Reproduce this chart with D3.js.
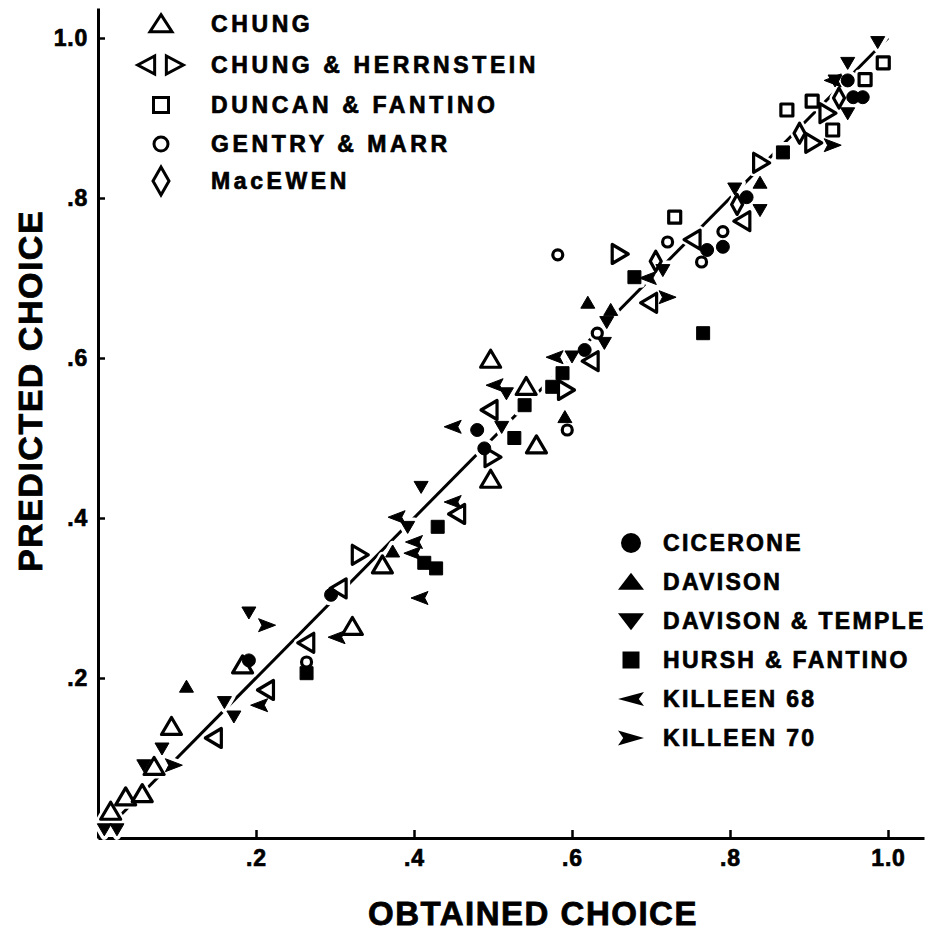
<!DOCTYPE html>
<html>
<head>
<meta charset="utf-8">
<script src="https://cdn.jsdelivr.net/npm/d3@7"></script>
<style>
  body { margin: 0; background: #fff; }
  svg { display: block; }
  text { font-family: "Liberation Sans", Arial, sans-serif; font-weight: bold; fill: #000; }
</style>
</head>
<body>
<svg id="chart" width="931" height="931"></svg>
<script>
// Data: [obtained, predicted]
const chung = [[0.016,0.033],[0.035,0.051],[0.056,0.055],[0.071,0.089],[0.093,0.139],[0.183,0.216],
  [0.322,0.264],[0.36,0.341],[0.497,0.598],[0.542,0.564],[0.555,0.491],[0.497,0.448]];
const chungHerrnsteinLeft = [[0.147,0.125],[0.213,0.185],[0.264,0.244],[0.305,0.312],[0.455,0.405],
  [0.496,0.535],[0.624,0.596],[0.698,0.669],[0.753,0.748],[0.816,0.771]];
const chungHerrnsteinRight = [[0.331,0.354],[0.499,0.476],[0.592,0.56],[0.66,0.73],[0.839,0.844],
  [0.905,0.869],[0.923,0.906]];
const duncanFantino = [[0.73,0.776],[0.872,0.91],[0.904,0.921],[0.93,0.885],[0.971,0.948],[0.994,0.969]];
const gentryMarr = [[0.264,0.22],[0.582,0.729],[0.594,0.51],[0.632,0.631],[0.721,0.745],[0.764,0.72],[0.791,0.758]];
const macEwen = [[0.706,0.721],[0.809,0.792],[0.888,0.881],[0.938,0.925]];
const cicerone = [[0.191,0.222],[0.295,0.304],[0.48,0.51],[0.489,0.487],[0.616,0.61],[0.771,0.735],
  [0.791,0.739],[0.821,0.801],[0.949,0.947],[0.956,0.926],[0.968,0.926]];
const davison = [[0.112,0.189],[0.373,0.358],[0.591,0.526],[0.62,0.669],[0.649,0.66],[0.838,0.819]];
const davisonTemple = [[0.008,0.011],[0.024,0.011],[0.058,0.091],[0.081,0.112],[0.16,0.17],[0.172,0.152],
  [0.191,0.282],[0.392,0.389],[0.409,0.439],[0.511,0.514],[0.517,0.556],[0.6,0.602],[0.641,0.619],
  [0.644,0.645],[0.715,0.71],[0.806,0.812],[0.838,0.785],[0.933,0.947],[0.949,0.969],[0.949,0.906],[0.987,0.995]];
const hurshFantino = [[0.264,0.206],[0.413,0.344],[0.428,0.337],[0.43,0.389],[0.527,0.5],[0.54,0.541],
  [0.575,0.564],[0.588,0.581],[0.679,0.701],[0.766,0.631],[0.867,0.857]];
const killeen68 = [[0.204,0.166],[0.302,0.251],[0.378,0.401],[0.398,0.356],[0.4,0.37],[0.407,0.3],
  [0.449,0.514],[0.449,0.42],[0.502,0.566],[0.578,0.601],[0.696,0.7],[0.93,0.947]];
const killeen70 = [[0.096,0.091],[0.214,0.266],[0.721,0.676],[0.93,0.866]];

const tickValues = [0.2, 0.4, 0.6, 0.8, 1.0];
const legendTop = ["CHUNG", "CHUNG & HERRNSTEIN", "DUNCAN & FANTINO", "GENTRY & MARR", "MacEWEN"];
const legendRight = ["CICERONE", "DAVISON", "DAVISON & TEMPLE", "HURSH & FANTINO", "KILLEEN 68", "KILLEEN 70"];

// shape paths centred on 0,0
function shape(kind, w, h) {
  switch (kind) {
    case "triUp":    return `M0,${-h*0.55}L${w/2},${h*0.45}L${-w/2},${h*0.45}Z`;
    case "triDown":  return `M0,${h*0.55}L${w/2},${-h*0.45}L${-w/2},${-h*0.45}Z`;
    case "triLeft":  return `M${-w*0.55},0L${w*0.45},${-h/2}L${w*0.45},${h/2}Z`;
    case "triRight": return `M${w*0.55},0L${-w*0.45},${-h/2}L${-w*0.45},${h/2}Z`;
    case "diamond":  return `M0,${-h/2}L${w/2},0L0,${h/2}L${-w/2},0Z`;
    case "arrowLeft":  return `M${-w/2},0L${w/2},${-h/2}L${w*0.3},0L${w/2},${h/2}Z`;
    case "arrowRight": return `M${w/2},0L${-w/2},${-h/2}L${-w*0.3},0L${-w/2},${h/2}Z`;
    case "square":   return `M${-w/2},${-h/2}h${w}v${h}h${-w}Z`;
    case "circle":   return d3.symbol(d3.symbolCircle, Math.PI * w * w / 4)();
  }
}

// series style table built from the arrays
const series = [
  { data: chung, kind: "triUp", open: true, w: 20, h: 17 },
  { data: chungHerrnsteinLeft, kind: "triLeft", open: true, w: 16, h: 19 },
  { data: chungHerrnsteinRight, kind: "triRight", open: true, w: 16, h: 19 },
  { data: duncanFantino, kind: "square", open: true, w: 12, h: 12 },
  { data: gentryMarr, kind: "circle", open: true, w: 10, h: 10 },
  { data: macEwen, kind: "diamond", open: true, w: 11, h: 20 },
  { data: cicerone, kind: "circle", open: false, w: 13, h: 13 },
  { data: davison, kind: "triUp", open: false, w: 14, h: 12 },
  { data: davisonTemple, kind: "triDown", open: false, w: 14, h: 12 },
  { data: hurshFantino, kind: "square", open: false, w: 13, h: 13 },
  { data: killeen68, kind: "arrowLeft", open: false, w: 17, h: 13 },
  { data: killeen70, kind: "arrowRight", open: false, w: 17, h: 13 }
];

const svg = d3.select("#chart");

const x = d3.scaleLinear().domain([0, 826 / 790]).range([98, 924]);
const y = d3.scaleLinear().domain([0, 830 / 800]).range([838, 8]);
const fmt = v => v === 1 ? "1.0" : d3.format(".1f")(v).replace(/^0/, "");

// Axes
const gx = svg.append("g")
  .attr("transform", `translate(0,${y(0)})`)
  .call(d3.axisBottom(x).tickValues(tickValues).tickFormat(fmt).tickSizeInner(-8).tickSizeOuter(0).tickPadding(12));
const gy = svg.append("g")
  .attr("transform", `translate(${x(0)},0)`)
  .call(d3.axisLeft(y).tickValues(tickValues).tickFormat(fmt).tickSizeInner(-7).tickSizeOuter(0).tickPadding(10));
[gx, gy].forEach(g => {
  g.attr("font-family", null).attr("font-size", null);
  g.select(".domain").attr("stroke", "#000").attr("stroke-width", 3);
  g.selectAll(".tick line").attr("stroke", "#000").attr("stroke-width", 2.5);
  g.selectAll(".tick text")
    .style("font-size", "23px").style("font-weight", "bold")
    .attr("stroke", "#000").attr("stroke-width", 0.7)
    .attr("letter-spacing", 0.8);
});

// Identity line
svg.append("line")
  .attr("x1", x(0)).attr("y1", y(0))
  .attr("x2", x(1)).attr("y2", y(1))
  .attr("stroke", "#000").attr("stroke-width", 3);

// halos first so the line breaks round the markers
const pts = series.flatMap(s => s.data.map(d => ({ s, d })));
svg.append("g").selectAll("path")
  .data(pts).join("path")
  .attr("transform", p => `translate(${x(p.d[0])},${y(p.d[1])})`)
  .attr("d", p => shape(p.s.kind, p.s.w, p.s.h))
  .attr("fill", "#fff").attr("stroke", "#fff").attr("stroke-width", 8)
  .attr("stroke-linejoin", "round");

svg.append("g").selectAll("path")
  .data(pts).join("path")
  .attr("transform", p => `translate(${x(p.d[0])},${y(p.d[1])})`)
  .attr("d", p => shape(p.s.kind, p.s.w, p.s.h))
  .attr("fill", p => p.s.open ? "#fff" : "#000")
  .attr("stroke", "#000")
  .attr("stroke-width", p => p.s.open ? 3.2 : 1)
  .attr("stroke-linejoin", "round");

// Legend, top left
const lt = svg.append("g").attr("transform", "translate(161,0)");
const topRows = [24, 65, 105, 144, 181];
lt.append("path").attr("transform", `translate(0,${topRows[0]})`).attr("d", shape("triUp", 22, 17))
  .attr("fill", "none").attr("stroke", "#000").attr("stroke-width", 3);
lt.append("path").attr("transform", `translate(-14,${topRows[1]})`).attr("d", shape("triLeft", 17, 18))
  .attr("fill", "none").attr("stroke", "#000").attr("stroke-width", 3);
lt.append("path").attr("transform", `translate(13,${topRows[1]})`).attr("d", shape("triRight", 17, 18))
  .attr("fill", "none").attr("stroke", "#000").attr("stroke-width", 3);
lt.append("path").attr("transform", `translate(0,${topRows[2]})`).attr("d", shape("square", 15, 15))
  .attr("fill", "none").attr("stroke", "#000").attr("stroke-width", 3);
lt.append("path").attr("transform", `translate(0,${topRows[3]})`).attr("d", shape("circle", 14, 14))
  .attr("fill", "none").attr("stroke", "#000").attr("stroke-width", 3);
lt.append("path").attr("transform", `translate(0,${topRows[4]})`).attr("d", shape("diamond", 16, 28))
  .attr("fill", "none").attr("stroke", "#000").attr("stroke-width", 3);
lt.selectAll("text").data(legendTop).join("text")
  .attr("x", 50).attr("y", (d, i) => topRows[i]).attr("dy", "0.36em")
  .attr("font-size", 23).attr("letter-spacing", 3.6)
  .attr("stroke", "#000").attr("stroke-width", 0.7)
  .text(d => d);

// Legend, bottom right
const lr = svg.append("g").attr("transform", "translate(631,0)");
const rightRows = [543, 582, 621, 660, 699, 738];
const rightKinds = [["circle", 20, 20], ["triUp", 26, 17], ["triDown", 26, 17], ["square", 17, 17], ["arrowLeft", 26, 14], ["arrowRight", 26, 15]];
lr.selectAll("path").data(rightKinds).join("path")
  .attr("transform", (d, i) => `translate(0,${rightRows[i]})`)
  .attr("d", d => shape(d[0], d[1], d[2]))
  .attr("fill", "#000");
lr.selectAll("text").data(legendRight).join("text")
  .attr("x", 32).attr("y", (d, i) => rightRows[i]).attr("dy", "0.36em")
  .attr("font-size", 23).attr("letter-spacing", 2.3)
  .attr("stroke", "#000").attr("stroke-width", 0.7)
  .text(d => d);

// Axis titles
svg.append("text")
  .attr("x", 533).attr("y", 925)
  .attr("text-anchor", "middle").attr("font-size", 33).attr("letter-spacing", 1.5)
  .attr("stroke", "#000").attr("stroke-width", 0.8)
  .text("OBTAINED CHOICE");
svg.append("text")
  .attr("transform", "translate(42,391) rotate(-90)")
  .attr("text-anchor", "middle").attr("font-size", 34).attr("letter-spacing", 1.5)
  .attr("stroke", "#000").attr("stroke-width", 0.8)
  .text("PREDICTED CHOICE");
</script>
</body>
</html>
